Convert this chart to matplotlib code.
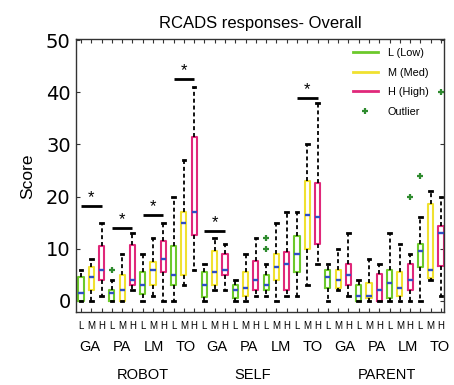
import matplotlib
matplotlib.use("Agg")
import matplotlib.pyplot as plt
from matplotlib.lines import Line2D
from matplotlib.legend_handler import HandlerLine2D
from matplotlib.transforms import blended_transform_factory

plt.rcParams['font.family'] = ['Liberation Sans', 'DejaVu Sans']

# ---- data -----------------------------------------------------------------
groups = ["ROBOT", "SELF", "PARENT"]
subscales = ["GA", "PA", "LM", "TO"]
levels = ["L", "M", "H"]
level_names = ["L (Low)", "M (Med)", "H (High)"]

# five-number summaries, ordered group -> subscale -> level (36 boxes)
whisker_low = [0, 0, 1,   0, 0, 2,   0, 1, 0,   0, 3, 6,
               0, 2, 2,   0, 0, 1,   1, 0, 1,   1, 3, 7,
               0, 2, 1,   0, 0, 0,   0, 0, 0,   0, 4, 1]
q1 = [0, 2, 4,     0, 0, 3,     1.3, 3, 5.5,  3, 5, 12.7,
      0.8, 3, 5,   0.5, 1, 2,   2, 4, 2,      5.5, 10, 11,
      2.5, 2.5, 3, 0, 0.5, 0,   0.5, 1, 2,    6.5, 4.3, 6.7]
median = [1.5, 4.5, 6,   1.5, 2, 4,     3, 6, 8,      5, 15, 17,
          3, 5.5, 6,     2, 2.5, 4,     3, 6.5, 7,    9, 16.5, 16,
          4.5, 4, 5,     1, 1, 2,       3.5, 2.5, 4,  9.5, 6, 13]
q3 = [4.5, 6.5, 10.5,  2, 5, 10.7,   5.5, 7.5, 11.5,  10.5, 17, 31.5,
      5.5, 9.5, 9,     3, 5.5, 7.7,  5, 9, 9.3,       12.5, 23, 22.7,
      6, 6, 7,         3, 3.5, 5.2,  6, 5.5, 7,       11, 18.5, 14.3]
whisker_high = [6, 8, 15,   4, 9, 13,    9, 12, 15,    20, 27, 41,
                7, 12, 11,  4, 9, 12,    7, 15, 17,    17, 30, 38,
                7, 10, 13,  4, 8, 7,     13, 11, 9,    16, 21, 20]
# outlying scores, keyed by 1-based box number
outliers = {4: [6], 19: [10, 12], 33: [20], 34: [24], 36: [40]}

# significant L-vs-H differences: (first box, last box, bar height)
significance = [(1, 3, 18.2), (4, 6, 13.9), (7, 9, 16.5), (10, 12, 42.5),
                (13, 15, 13.4), (22, 24, 38.9)]

level_colors = ["#6cc92b", "#f0e130", "#e0287a"]
median_color = "#2f4fc4"
outlier_color = "#2e8b2e"


class RightMarkerHandler(HandlerLine2D):
    """Legend handler that draws a lone marker at the right of the slot."""
    def get_xdata(self, legend, xdescent, ydescent, width, height, fontsize):
        return [-xdescent, -xdescent + width], [-xdescent + 0.85 * width]


# ---- figure ---------------------------------------------------------------
fig = plt.figure(figsize=(4.54, 3.85), dpi=100)
ax = fig.add_axes([0.168, 0.189, 0.8106, 0.709])

n = len(median)
positions = list(range(1, n + 1))
stats = []
for i in range(n):
    stats.append(dict(med=median[i], q1=q1[i], q3=q3[i],
                      whislo=whisker_low[i], whishi=whisker_high[i],
                      fliers=outliers.get(i + 1, [])))

parts = ax.bxp(stats, positions=positions, widths=0.5, capwidths=0.25,
               showfliers=True, manage_ticks=False,
               boxprops=dict(linewidth=1.5),
               whiskerprops=dict(color="black", linewidth=1.3,
                                 linestyle=(0, (2.2, 1.6))),
               capprops=dict(color="black", linewidth=2.0),
               medianprops=dict(color=median_color, linewidth=1.7),
               flierprops=dict(marker="+", markeredgecolor=outlier_color,
                               markersize=5, markeredgewidth=1.6,
                               linestyle="none"))
for i, box in enumerate(parts["boxes"]):
    box.set_color(level_colors[i % 3])

# significance bars with stars
for a, b, y in significance:
    ax.plot([a, b], [y, y], color="black", linewidth=2,
            solid_capstyle="butt")
    ax.text((a + b) / 2, y + 0.2, "*", ha="center", va="bottom",
            fontsize=12, color="black")

ax.set_xlim(0.54, 36.32)
ax.set_ylim(-2.17, 50.18)
ax.set_yticks(range(0, 51, 10))
ax.set_yticklabels([str(v) for v in range(0, 51, 10)],
                   fontsize=14, family="DejaVu Sans")
ax.set_xticks(positions)
ax.set_xticklabels(levels * (len(groups) * len(subscales)), fontsize=7)
ax.tick_params(direction="in", top=True, right=True, length=3,
               width=0.8, color="#333333")
ax.tick_params(axis="x", pad=6.5)
ax.tick_params(axis="y", pad=4)
for sp in ax.spines.values():
    sp.set_color("#333333")
    sp.set_linewidth(1.0)

ax.set_ylabel("Score", fontsize=12.5, labelpad=8)
ax.set_title("RCADS responses- Overall", fontsize=12, pad=8)

# subscale and group captions under the axis
trans = blended_transform_factory(ax.transData, fig.transFigure)
n_sub = len(groups) * len(subscales)
for k in range(n_sub):
    ax.text(1.87 + k * 3.095, 0.099, subscales[k % len(subscales)],
            transform=trans, ha="center", va="center", fontsize=10.5)
for name, xc in zip(groups, [7.0, 17.7, 30.7]):
    ax.text(xc, 0.027, name, transform=trans, ha="center", va="center",
            fontsize=10.5)

handles = [Line2D([], [], color=c, linewidth=2) for c in level_colors]
outlier_handle = Line2D([], [], color=outlier_color, marker="+",
                        linestyle="none", markersize=5, markeredgewidth=1.6)
handles.append(outlier_handle)
ax.legend(handles, level_names + ["Outlier"], loc="upper left",
          bbox_to_anchor=(0.752, 0.968), frameon=False, fontsize=7.8,
          handlelength=2.3, labelspacing=0.88, borderpad=0,
          borderaxespad=0, handletextpad=0.9,
          handler_map={outlier_handle: RightMarkerHandler(numpoints=1)})

fig.savefig("out.png", dpi=100)
